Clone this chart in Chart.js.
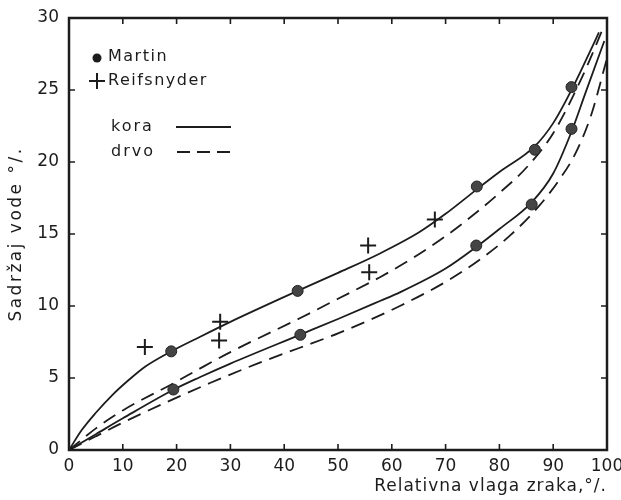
<!DOCTYPE html>
<html>
<head>
<meta charset="utf-8">
<script src="https://cdn.jsdelivr.net/npm/chart.js@4.4.1/dist/chart.umd.min.js"></script>
<style>
  html, body { margin: 0; padding: 0; background: #ffffff; }
  #wrap { width: 621px; height: 500px; }
</style>
</head>
<body>
<div id="wrap"><canvas id="c" width="621" height="500"></canvas></div>
<script>
// ---- data ----
const xTickValues = [0, 10, 20, 30, 40, 50, 60, 70, 80, 90, 100];
const yTickValues = [0, 5, 10, 15, 20, 25, 30];

// kora (bark) – upper solid curve
const koraUpperX = [0, 2.4, 4.9, 8, 11.1, 14.2, 18.5, 24.3, 30, 42.5, 50, 57.8, 65, 70, 75.8, 80, 86.6, 90, 93.4, 96, 98.5];
const koraUpperY = [0, 1.4, 2.55, 3.8, 4.86, 5.8, 6.75, 7.85, 8.9, 11.05, 12.3, 13.65, 15.1, 16.4, 18.1, 19.3, 21.1, 22.7, 25.0, 27.0, 29.0];

// drvo (wood) – upper dashed curve
const drvoUpperX = [0, 5, 10, 19.5, 24.3, 30, 42.9, 50, 57.8, 64, 70, 76.4, 80, 85, 90, 95.5, 99.5];
const drvoUpperY = [0, 1.5, 2.75, 4.65, 5.65, 6.8, 9.15, 10.5, 12.0, 13.35, 14.85, 16.7, 17.85, 19.6, 22.0, 26.0, 29.5];

// kora – lower solid curve
const koraLowerX = [0, 5, 10, 19.5, 24.3, 30, 42.9, 50, 57.8, 61.5, 70, 75.7, 80, 86, 90, 93.4, 96, 99.5];
const koraLowerY = [0, 1.1, 2.2, 4.2, 5.05, 6.0, 8.0, 9.1, 10.35, 10.95, 12.6, 14.1, 15.35, 17.2, 19.2, 22.1, 24.8, 28.4];

// drvo – lower dashed curve
const drvoLowerX = [0, 5, 10, 19.5, 26.2, 35, 42.9, 50, 61.5, 70.8, 77, 82, 87.5, 91, 94, 97, 100];
const drvoLowerY = [0, 0.95, 1.9, 3.55, 4.65, 6.0, 7.1, 8.1, 10.0, 11.85, 13.4, 14.9, 17.0, 18.7, 20.5, 23.2, 27.2];

const martinX = [19, 42.5, 75.8, 86.6, 93.4, 19.4, 43, 75.7, 86, 93.4];
const martinY = [6.85, 11.05, 18.3, 20.85, 25.2, 4.2, 8.0, 14.2, 17.05, 22.3];

const reifX = [14.1, 28.1, 27.9, 55.6, 55.8, 68];
const reifY = [7.15, 8.9, 7.6, 14.2, 12.35, 16.0];

const xTitle = 'Relativna vlaga zraka,°/.';
const yTitle = 'Sadržaj vode °/.';
const legendItems = ['Martin', 'Reifsnyder', 'kora', 'drvo'];

// ---- helpers ----
const pts = (xs, ys) => xs.map((x, i) => ({ x: x, y: ys[i] }));
const INK = '#1c1c1c';
const FONT = '"DejaVu Sans", sans-serif';

function lineDs(xs, ys, dashed) {
  return {
    type: 'line',
    data: pts(xs, ys),
    borderColor: INK,
    borderWidth: 1.8,
    borderDash: dashed ? [14, 8] : [],
    pointRadius: 0,
    fill: false,
    cubicInterpolationMode: 'monotone',
    order: 2
  };
}

const spacingPlugin = {
  id: 'titleSpacing',
  afterLayout(chart) {
    const spec = { x: '1px', y: '2.5px' };
    Object.keys(spec).forEach(id => {
      const s = chart.scales[id];
      if (!s || s._spacedTitle) return;
      const orig = s.drawTitle.bind(s);
      s.drawTitle = function () {
        const ctx = this.ctx;
        ctx.save();
        ctx.letterSpacing = spec[id];
        orig();
        ctx.restore();
      };
      s._spacedTitle = true;
    });
  }
};

const framePlugin = {
  id: 'frame',
  afterDraw(chart) {
    const ctx = chart.ctx;
    const a = chart.chartArea;
    const xs = chart.scales.x, ys = chart.scales.y;
    ctx.save();
    ctx.strokeStyle = INK;
    ctx.lineWidth = 2.5;
    ctx.strokeRect(a.left, a.top, a.right - a.left, a.bottom - a.top);
    ctx.lineWidth = 1.6;
    const tl = 6;
    ctx.beginPath();
    xTickValues.slice(1, -1).forEach(v => {
      const px = xs.getPixelForValue(v);
      ctx.moveTo(px, a.bottom); ctx.lineTo(px, a.bottom - tl);
      ctx.moveTo(px, a.top); ctx.lineTo(px, a.top + tl);
    });
    yTickValues.slice(1, -1).forEach(v => {
      const py = ys.getPixelForValue(v);
      ctx.moveTo(a.left, py); ctx.lineTo(a.left + tl, py);
      ctx.moveTo(a.right, py); ctx.lineTo(a.right - tl, py);
    });
    ctx.stroke();

    // legend
    const L = a.left;
    const T = a.top;
    ctx.fillStyle = INK;
    ctx.font = '16px ' + FONT;
    ctx.textBaseline = 'middle';
    ctx.textAlign = 'left';
    ctx.letterSpacing = '1.5px';
    // Martin
    ctx.beginPath();
    ctx.arc(L + 28, T + 40, 4.5, 0, Math.PI * 2);
    ctx.fill();
    ctx.fillText(legendItems[0], L + 39, T + 39);
    // Reifsnyder
    ctx.lineWidth = 2;
    ctx.beginPath();
    ctx.moveTo(L + 20, T + 63); ctx.lineTo(L + 36, T + 63);
    ctx.moveTo(L + 28, T + 55); ctx.lineTo(L + 28, T + 71);
    ctx.stroke();
    ctx.fillText(legendItems[1], L + 39, T + 63);
    // kora
    ctx.letterSpacing = '2px';
    ctx.fillText(legendItems[2], L + 42, T + 109);
    ctx.lineWidth = 1.8;
    ctx.beginPath();
    ctx.moveTo(L + 107, T + 109); ctx.lineTo(L + 162, T + 109);
    ctx.stroke();
    // drvo
    ctx.fillText(legendItems[3], L + 42, T + 134);
    ctx.setLineDash([13, 7]);
    ctx.beginPath();
    ctx.moveTo(L + 108, T + 134); ctx.lineTo(L + 164, T + 134);
    ctx.stroke();
    ctx.setLineDash([]);
    ctx.restore();
  }
};

new Chart(document.getElementById('c'), {
  type: 'scatter',
  data: {
    datasets: [
      lineDs(koraUpperX, koraUpperY, false),
      lineDs(drvoUpperX, drvoUpperY, true),
      lineDs(koraLowerX, koraLowerY, false),
      lineDs(drvoLowerX, drvoLowerY, true),
      {
        label: 'Martin',
        data: pts(martinX, martinY),
        pointStyle: 'circle',
        pointRadius: 5.5,
        backgroundColor: '#444',
        borderColor: '#222',
        borderWidth: 1,
        showLine: false,
        order: 1
      },
      {
        label: 'Reifsnyder',
        data: pts(reifX, reifY),
        pointStyle: 'cross',
        pointRadius: 8,
        borderColor: INK,
        borderWidth: 2,
        showLine: false,
        order: 1
      }
    ]
  },
  options: {
    responsive: false,
    animation: false,
    devicePixelRatio: 1,
    layout: { padding: { top: 18, right: 14, left: 0, bottom: 0 } },
    plugins: { legend: { display: false }, tooltip: { enabled: false } },
    scales: {
      x: {
        type: 'linear',
        min: 0, max: 100,
        afterBuildTicks: s => { s.ticks = xTickValues.map(v => ({ value: v })); },
        afterFit: s => { s.height = 50; s.paddingLeft = 0; s.paddingRight = 0; },
        grid: { display: false, drawTicks: false },
        border: { display: false },
        ticks: { color: INK, font: { family: FONT, size: 17 }, padding: 6, maxRotation: 0, autoSkip: false },
        title: { display: true, text: xTitle, align: 'end', color: INK, font: { family: FONT, size: 17 }, padding: { top: 0, bottom: 3 } }
      },
      y: {
        type: 'linear',
        min: 0, max: 30,
        afterBuildTicks: s => { s.ticks = yTickValues.map(v => ({ value: v })); },
        afterFit: s => { s.width = 69; s.paddingTop = 0; s.paddingBottom = 0; },
        grid: { display: false, drawTicks: false },
        border: { display: false },
        ticks: { color: INK, font: { family: FONT, size: 17 }, padding: 10, autoSkip: false },
        title: { display: true, text: yTitle, color: INK, font: { family: FONT, size: 17 }, padding: { top: 6, bottom: 0 } }
      }
    }
  },
  plugins: [spacingPlugin, framePlugin]
});
</script>
</body>
</html>
